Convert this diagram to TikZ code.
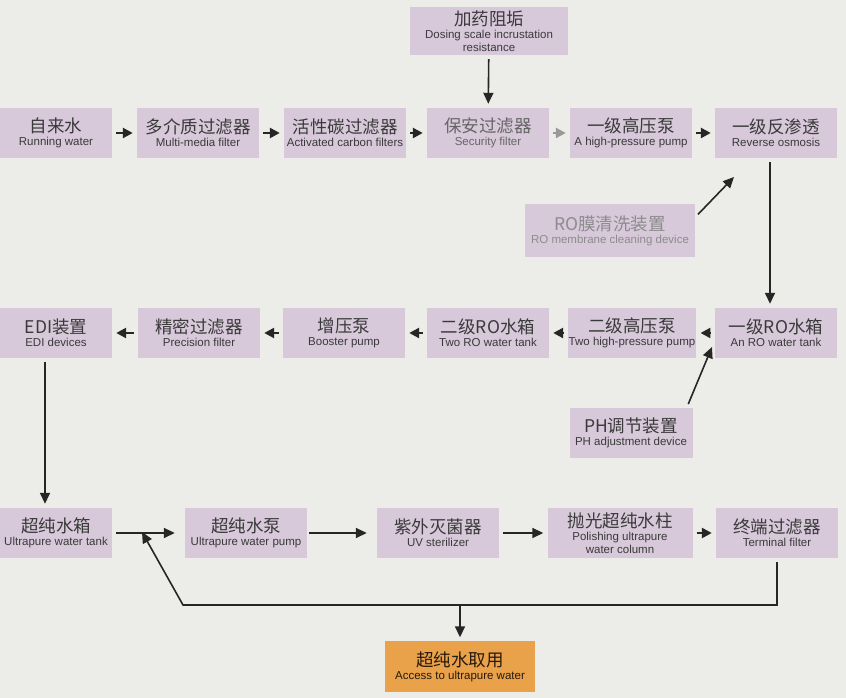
\documentclass[tikz,border=0pt]{standalone}
\usepackage{fontspec}
\usetikzlibrary{arrows.meta}
\setmainfont{Liberation Sans}
\newfontfamily\cjk{Noto Sans CJK SC}
\definecolor{boxfill}{HTML}{D7C8DA}
\definecolor{tapfill}{HTML}{E9A24A}
\definecolor{paper}{HTML}{ECEDE9}
\definecolor{ink}{HTML}{3A3A3A}
\newcommand{\twoline}[2]{{\cjk\fontsize{17.5}{20}\selectfont #1}\\#2}
\tikzset{
  stage/.style={fill=boxfill,minimum width=122pt,minimum height=50pt,inner sep=1pt,
    align=center,text=ink,font=\fontsize{11.5}{13}\selectfont},
  flow/.style={-{Triangle[length=10pt,width=10pt]},line width=2.4pt,draw=black!85,
    shorten >=4pt,shorten <=4pt},
  thinflow/.style={flow,line width=1.6pt,-{Triangle[length=11pt,width=10pt]}}
}

\begin{document}
\begin{tikzpicture}[x=1pt,y=1pt]
  \fill[paper](0,0)rectangle(846,698);

  \node[stage,minimum width=158pt,minimum height=48pt] (dose) at (489,667)
    {\twoline{加药阻垢}{Dosing scale incrustation\\resistance}};

  \node[stage,minimum width=112pt] (raw) at (56,565) {\twoline{自来水}{Running water}};
  \node[stage] (multi) at (198,565) {\twoline{多介质过滤器}{Multi-media filter}};
  \node[stage] (carbon) at (345,565) {\twoline{活性碳过滤器}{Activated carbon filters}};
  \node[stage,text=black!60] (security) at (488,565) {\twoline{保安过滤器}{Security filter}};
  \node[stage] (hpone) at (631,565) {\twoline{一级高压泵}{A high-pressure pump}};
  \node[stage] (roone) at (776,565) {\twoline{一级反渗透}{Reverse osmosis}};

  \node[stage,minimum width=170pt,minimum height=53pt,text=black!45] (clean) at (610,467)
    {\twoline{RO膜清洗装置}{RO membrane cleaning device}};

  \node[stage,minimum width=112pt] (edi) at (56,365) {\twoline{EDI装置}{EDI devices}};
  \node[stage] (precise) at (199,365) {\twoline{精密过滤器}{Precision filter}};
  \node[stage] (booster) at (344,365) {\twoline{增压泵}{Booster pump}};
  \node[stage] (rotwo) at (488,365) {\twoline{二级RO水箱}{Two RO water tank}};
  \node[stage,minimum width=127pt] (hptwo) at (632,365) {\twoline{二级高压泵}{Two high-pressure pump}};
  \node[stage] (tankone) at (776,365) {\twoline{一级RO水箱}{An RO water tank}};

  \node[stage,minimum width=123pt] (ph) at (631,265) {\twoline{PH调节装置}{PH adjustment device}};

  \node[stage,minimum width=112pt] (upt) at (56,165) {\twoline{超纯水箱}{Ultrapure water tank}};
  \node[stage] (upp) at (246,165) {\twoline{超纯水泵}{Ultrapure water pump}};
  \node[stage] (uv) at (438,165) {\twoline{紫外灭菌器}{UV sterilizer}};
  \node[stage,minimum width=145pt] (polish) at (620,165)
    {\twoline{抛光超纯水柱}{Polishing ultrapure\\water column}};
  \node[stage] (term) at (777,165) {\twoline{终端过滤器}{Terminal filter}};

  \node[stage,fill=tapfill,minimum width=150pt,minimum height=51pt,text=black!80!brown] (access) at (460,31)
    {\twoline{超纯水取用}{Access to ultrapure water}};

  \coordinate (roin) at (734,521);
  \coordinate (phin) at (712,351);
  \coordinate (turn) at (183,93);
  \coordinate (split) at (460,93);
  \coordinate (merge) at (142,166);

  \draw[thinflow](dose)--(security);
  \draw[flow](raw)--(multi);
  \draw[flow](multi)--(carbon);
  \draw[flow](carbon)--(security);
  \draw[flow,draw=black!40](security)--(hpone);
  \draw[flow](hpone)--(roone);
  \draw[thinflow,shorten >=0pt]([yshift=-13pt]clean.north east)--(roin);
  \draw[thinflow]([xshift=-6pt]roone.south)--([xshift=-6pt]tankone.north);

  \draw[flow](tankone)--(hptwo);
  \draw[flow](hptwo)--(rotwo);
  \draw[flow](rotwo)--(booster);
  \draw[flow](booster)--(precise);
  \draw[flow](precise)--(edi);
  \draw[thinflow,shorten >=0pt]([xshift=-6pt]ph.north east)--(phin);
  \draw[thinflow]([xshift=-11pt]edi.south)--([xshift=-11pt]upt.north);

  \draw[thinflow,shorten >=10pt](upt)--(upp);
  \draw[thinflow,shorten <=2pt,shorten >=10pt](upp)--(uv);
  \draw[thinflow](uv)--(polish);
  \draw[flow](polish)--(term);
  \draw[thinflow,shorten >=0pt](term.south)|-(turn)--(merge);
  \draw[thinflow,shorten <=0pt](split)--(access);
\end{tikzpicture}
\end{document}
